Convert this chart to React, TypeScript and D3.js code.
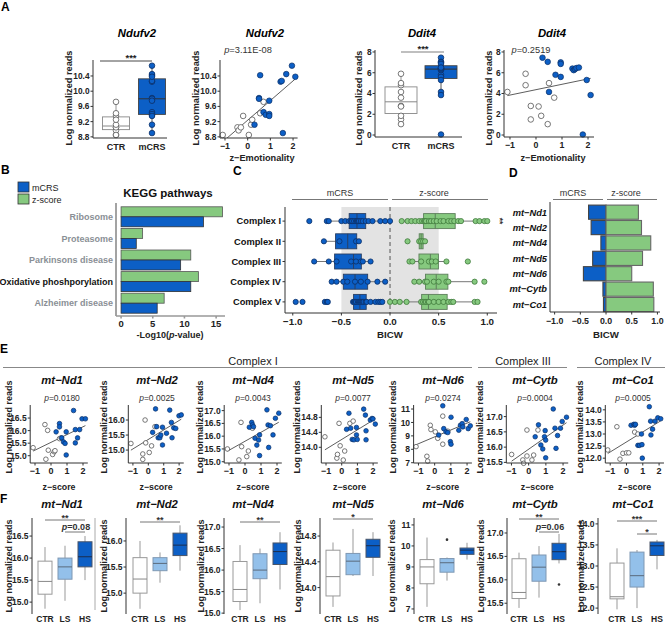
import React from 'react';
import * as d3 from 'd3';

type Pt = [number, number];

// ================= DATA =================
// Panel A
const groupsA = ['CTR', 'mCRS'];
const ndufv2Ctr: Pt[] = [[-1.1, 8.85], [-0.45, 9.05], [-0.4, 8.97], [-0.3, 9.05], [-0.2, 9.35], [0.05, 8.85], [0.15, 9.12], [0.2, 9.25], [0.55, 9.42], [0.7, 9.72]];
const ndufv2Mcrs: Pt[] = [[0.3, 9.12], [0.5, 9.82], [0.5, 9.8], [0.55, 10.42], [0.7, 9.45], [0.8, 9.38], [0.95, 9.75], [0.95, 9.4], [0.95, 9.35], [1.45, 10.25], [1.5, 10.27], [1.55, 8.9], [1.7, 10.45], [1.95, 10.67], [2.1, 10.38]];
const ddit4Ctr: Pt[] = [[-1.1, 4.15], [-0.4, 5.9], [-0.4, 4.8], [-0.2, 2.8], [-0.2, 1.5], [0.1, 2.75], [0.2, 1.85], [0.45, 1.05], [0.5, 5.0], [0.7, 3.6]];
const ddit4Mcrs: Pt[] = [[0.25, 7.45], [0.45, 7.05], [0.5, 4.15], [0.75, 5.8], [0.95, 7.0], [0.95, 6.85], [0.95, 5.6], [1.4, 6.4], [1.45, 6.25], [1.5, 6.35], [1.55, 6.45], [1.65, 6.5], [1.8, 0.05], [1.95, 5.3], [2.1, 3.85]];
const ndufv2Ticks = [8.8, 9.2, 9.6, 10.0, 10.4];
const ddit4Ticks = [0, 2, 4, 6, 8];
const zTicks = [-1, 0, 1, 2];
const pNdufv2 = '3.11E-08';
const pDdit4 = '0.2519';

// Panel B
const keggCats = ['Ribosome', 'Proteasome', 'Parkinsons disease', 'Oxidative phoshporylation', 'Alzheimer disease'];
const keggMcrs = [13.0, 2.4, 9.4, 11.0, 5.7];
const keggZ = [16.0, 3.4, 11.0, 12.2, 6.8];
const keggTicks = [0, 5, 10, 15];

// Panel C
const complexes = ['Complex I', 'Complex II', 'Complex III', 'Complex IV', 'Complex V'];
const bicwMcrs: number[][] = [
  [-0.83, -0.65, -0.63, -0.5, -0.46, -0.42, -0.4, -0.39, -0.37, -0.35, -0.34, -0.33, -0.32, -0.3, -0.28, -0.25, -0.22, -0.18, -0.1, -0.05, 0.0],
  [-0.68, -0.52, -0.35, -0.32],
  [-0.78, -0.63, -0.55, -0.4, -0.35, -0.3, -0.28, -0.2],
  [-0.6, -0.55, -0.48, -0.44, -0.36, -0.3, -0.23, -0.13, -0.05],
  [-0.97, -0.9, -0.67, -0.65, -0.64, -0.38, -0.37, -0.36, -0.35, -0.33, -0.32, -0.31, -0.3, -0.29, -0.28, -0.27, -0.25, -0.24, -0.2, -0.15, -0.12, -0.1, -0.08],
];
const bicwZ: number[][] = [
  [0.12, 0.18, 0.22, 0.26, 0.3, 0.33, 0.35, 0.36, 0.37, 0.4, 0.42, 0.45, 0.48, 0.52, 0.55, 0.6, 0.63, 0.66, 0.7, 0.73, 0.88, 0.92, 0.97, 1.0],
  [0.18, 0.3, 0.32, 0.34, 0.36],
  [0.2, 0.23, 0.32, 0.4, 0.43, 0.47, 0.58, 0.8],
  [0.25, 0.3, 0.36, 0.38, 0.45, 0.5, 0.58, 0.6, 0.87, 0.97],
  [0.0, 0.05, 0.1, 0.17, 0.32, 0.34, 0.36, 0.37, 0.39, 0.4, 0.45, 0.5, 0.55, 0.6, 0.63, 0.65, 0.87, 0.9],
];
const bicwTicks = [-1, -0.5, 0, 0.5, 1];

// Panel D
const dGenes = ['mt\u2212Nd1', 'mt\u2212Nd2', 'mt\u2212Nd4', 'mt\u2212Nd5', 'mt\u2212Nd6', 'mt\u2212Cytb', 'mt\u2212Co1'];
const dMcrs = [-0.34, -0.29, -0.1, -0.26, -0.44, -0.06, -0.05];
const dZ = [0.63, 0.69, 0.87, 0.71, 0.5, 0.92, 0.93];

// Panel E
const nd1Ctr: Pt[] = [[-1.12, 15.32], [-0.38, 16.24], [-0.32, 14.86], [-0.21, 16.01], [-0.17, 15.22], [0.1, 15.05], [0.2, 15.16], [0.25, 15.2], [0.53, 15.68], [0.63, 15.71]];
const nd1Mcrs: Pt[] = [[0.32, 15.95], [0.53, 16.28], [0.53, 16.15], [0.67, 15.71], [0.78, 15.55], [0.88, 15.49], [0.95, 15.95], [0.95, 15.03], [1.41, 16.8], [1.52, 16.04], [1.52, 15.51], [1.66, 15.71], [1.79, 16.04], [1.94, 16.47], [2.15, 16.47]];
const nd2Ctr: Pt[] = [[-1.13, 15.22], [-0.36, 14.87], [-0.36, 14.69], [-0.21, 16.0], [-0.17, 15.24], [0.06, 14.92], [0.21, 15.14], [0.43, 15.78]];
const nd2Mcrs: Pt[] = [[0.28, 15.59], [0.47, 16.37], [0.54, 15.78], [0.64, 15.41], [0.75, 15.41], [0.81, 15.5], [0.92, 15.76], [0.92, 15.17], [1.18, 15.56], [1.39, 16.33], [1.5, 15.92], [1.54, 15.41], [1.65, 15.74], [1.78, 15.72], [1.99, 16.14], [2.14, 16.17]];
const nd4Ctr: Pt[] = [[-1.1, 15.5], [-0.38, 15.07], [-0.25, 16.54], [-0.21, 15.59], [0.11, 15.2], [0.21, 15.42], [0.47, 16.31]];
const nd4Mcrs: Pt[] = [[0.27, 16.35], [0.42, 16.54], [0.47, 16.44], [0.53, 16.37], [0.63, 15.92], [0.74, 15.65], [0.85, 15.85], [0.91, 16.05], [0.91, 15.24], [1.37, 17.03], [1.44, 16.44], [1.48, 15.56], [1.59, 16.41], [1.75, 16.05], [1.9, 16.7], [2.11, 16.9]];
const nd5Ctr: Pt[] = [[-1.07, 14.28], [-0.31, 13.71], [-0.27, 13.81], [-0.17, 14.64], [-0.1, 14.04], [0.1, 13.66], [0.19, 13.9], [0.52, 14.64], [0.73, 14.7]];
const nd5Mcrs: Pt[] = [[0.31, 14.48], [0.46, 14.91], [0.57, 14.51], [0.67, 14.21], [0.78, 14.2], [0.94, 14.53], [0.94, 14.33], [0.99, 14.21], [1.4, 15.02], [1.51, 14.86], [1.55, 14.44], [1.55, 14.2], [1.82, 14.73], [1.93, 14.77], [1.99, 14.76], [2.14, 14.62]];
const nd6Ctr: Pt[] = [[-1.15, 8.2], [-0.48, 7.48], [-0.43, 7.12], [-0.27, 9.79], [-0.23, 9.47], [0.04, 9.3], [0.19, 8.82], [0.5, 10.47], [0.5, 8.38], [0.81, 9.35]];
const nd6Mcrs: Pt[] = [[0.25, 9.06], [0.5, 11.24], [0.56, 9.54], [0.7, 9.3], [0.81, 9.25], [1.01, 10.39], [0.97, 8.57], [1.01, 8.38], [1.49, 9.42], [1.59, 9.79], [1.7, 9.91], [1.74, 9.67], [1.95, 10.22], [2.07, 9.54], [2.2, 9.75]];
const cytbCtr: Pt[] = [[-0.99, 15.76], [-0.34, 15.58], [-0.29, 15.47], [-0.1, 15.71], [-0.1, 16.56], [0.19, 15.58], [0.29, 15.74], [0.54, 16.56]];
const cytbMcrs: Pt[] = [[0.38, 16.34], [0.57, 16.73], [0.71, 16.07], [0.82, 15.94], [0.92, 16.34], [0.96, 16.54], [0.99, 16.23], [0.99, 15.65], [1.43, 17.25], [1.53, 16.62], [1.59, 15.96], [1.68, 16.38], [1.85, 16.62], [1.95, 16.84], [2.2, 16.98]];
const co1Ctr: Pt[] = [[-1.15, 12.34], [-0.59, 13.3], [-0.4, 11.96], [-0.22, 12.2], [0.0, 12.22], [0.14, 12.22], [0.5, 13.08], [0.7, 13.0]];
const co1Mcrs: Pt[] = [[0.28, 13.36], [0.45, 13.4], [0.5, 13.36], [0.55, 13.4], [0.7, 12.53], [0.8, 12.53], [0.92, 13.0], [0.95, 12.56], [0.97, 12.0], [1.4, 14.13], [1.48, 13.53], [1.5, 12.96], [1.6, 13.2], [1.75, 13.53], [1.92, 13.67], [2.1, 13.63]];
const eGenes = ['mt\u2212Nd1', 'mt\u2212Nd2', 'mt\u2212Nd4', 'mt\u2212Nd5', 'mt\u2212Nd6', 'mt\u2212Cytb', 'mt\u2212Co1'];
const ePvals = ['0.0180', '0.0025', '0.0043', '0.0077', '0.0274', '0.0004', '0.0005'];
const eCtr = [nd1Ctr, nd2Ctr, nd4Ctr, nd5Ctr, nd6Ctr, cytbCtr, co1Ctr];
const eMcrs = [nd1Mcrs, nd2Mcrs, nd4Mcrs, nd5Mcrs, nd6Mcrs, cytbMcrs, co1Mcrs];
const eYDom: [number, number][] = [[14.71, 17.02], [14.57, 16.5], [14.95, 17.22], [13.58, 15.13], [6.98, 11.3], [15.48, 17.38], [11.8, 14.2]];
const eYTicks = [[15, 15.5, 16, 16.5], [15, 15.5, 16], [15, 15.5, 16, 16.5, 17], [14, 14.4, 14.8], [7, 8, 9, 10, 11], [15.5, 16, 16.5, 17], [12, 12.5, 13, 13.5, 14]];
const complexHeaders = ['Complex I', 'Complex III', 'Complex IV'];

// Panel F : [lower whisker, Q1, median, Q3, upper whisker]
const fGroups = ['CTR', 'LS', 'HS'];
const fNd1 = [[14.85, 15.18, 15.47, 15.93, 16.25], [15.03, 15.52, 15.8, 16.0, 16.28], [15.5, 15.8, 16.03, 16.37, 16.5]];
const fNd2 = [[14.7, 15.0, 15.27, 15.68, 16.0], [15.2, 15.43, 15.57, 15.68, 15.78], [15.43, 15.72, 15.92, 16.15, 16.3]];
const fNd4 = [[15.07, 15.27, 15.55, 16.2, 16.58], [15.23, 15.8, 16.0, 16.38, 16.5], [15.55, 16.13, 16.43, 16.63, 16.88]];
const fNd5 = [[13.7, 13.87, 14.17, 14.58, 14.7], [14.18, 14.2, 14.41, 14.53, 14.91], [14.18, 14.47, 14.65, 14.75, 14.86]];
const fNd6 = [[7.1, 8.2, 9.0, 9.35, 10.4], [8.35, 8.75, 9.2, 9.4, 9.45], [9.35, 9.6, 9.8, 9.9, 10.15]];
const fCytb = [[15.4, 15.6, 15.73, 16.45, 16.58], [15.62, 15.97, 16.27, 16.53, 16.72], [16.35, 16.43, 16.6, 16.78, 16.98]];
const fCo1 = [[11.97, 12.22, 12.27, 13.07, 13.42], [12.0, 12.5, 12.77, 13.33, 13.38], [12.92, 13.25, 13.48, 13.57, 13.62]];
const fStats = [fNd1, fNd2, fNd4, fNd5, fNd6, fCytb, fCo1];
const fOutliers: [string, number][][] = [[], [], [], [], [['LS', 10.3]], [['HS', 15.9]], []];
const fSig: { a: string; b: string; label: string }[][] = [
  [{ a: 'CTR', b: 'HS', label: '**' }, { a: 'LS', b: 'HS', label: 'p=0.08' }],
  [{ a: 'CTR', b: 'HS', label: '**' }],
  [{ a: 'CTR', b: 'HS', label: '**' }],
  [{ a: 'CTR', b: 'HS', label: '*' }],
  [],
  [{ a: 'CTR', b: 'HS', label: '**' }, { a: 'LS', b: 'HS', label: 'p=0.06' }],
  [{ a: 'CTR', b: 'HS', label: '***' }, { a: 'LS', b: 'HS', label: '*' }],
];

// ================= LAYOUT / STYLE =================
const FONT = "'Liberation Sans', Arial, Helvetica, sans-serif";
const BLUE = '#0c5fc6';
const BLUE_EDGE = '#0b2f66';
const GREEN = '#86c97f';
const GREEN_EDGE = '#3f7a3b';
const LIGHTBLUE = '#93c0ea';
const AX = '#333';
const f1 = d3.format('.1f');
const fd = d3.format('d');

const eLayout = [
  { left: 30.2, unit: 16, titleX: 62, ylabX: 8.5 },
  { left: 128.3, unit: 15.4, titleX: 157, ylabX: 104 },
  { left: 224.2, unit: 16, titleX: 253, ylabX: 200 },
  { left: 321.3, unit: 15.7, titleX: 353, ylabX: 297 },
  { left: 413.6, unit: 16.2, titleX: 443, ylabX: 393 },
  { left: 506.3, unit: 17.2, titleX: 535, ylabX: 480 },
  { left: 605.3, unit: 16.3, titleX: 633, ylabX: 580 },
];
const fLayout = [
  { axis: 32, c0: 45, sigY: [520, 532], border: 95, ylabX: 8.5 },
  { axis: 126, c0: 140, sigY: [522], ylabX: 104 },
  { axis: 224, c0: 240, sigY: [522], ylabX: 201 },
  { axis: 320, c0: 333, sigY: [519], ylabX: 298 },
  { axis: 414, c0: 427, sigY: [], ylabX: 392 },
  { axis: 507, c0: 519, sigY: [519, 532], ylabX: 481 },
  { axis: 598, c0: 617, sigY: [521, 534], ylabX: 581 },
];
const fYDom: [number, number][] = [[14.73, 16.91], [14.6, 16.44], [14.98, 17.21], [13.59, 15.08], [6.76, 11.33], [15.27, 17.32], [11.86, 14.14]];

// ================= HELPERS =================
function boxStats(vals: number[]) {
  const s = vals.slice().sort(d3.ascending);
  const q1 = d3.quantile(s, 0.25) as number;
  const med = d3.quantile(s, 0.5) as number;
  const q3 = d3.quantile(s, 0.75) as number;
  const iqr = q3 - q1;
  const inside = s.filter((v) => v >= q1 - 1.5 * iqr && v <= q3 + 1.5 * iqr);
  return { q1, med, q3, lo: inside[0], hi: inside[inside.length - 1] };
}

function fitLine(pts: Pt[]) {
  const mx = d3.mean(pts, (p) => p[0]) as number;
  const my = d3.mean(pts, (p) => p[1]) as number;
  let sxy = 0, sxx = 0;
  pts.forEach(([x, y]) => { sxy += (x - mx) * (y - my); sxx += (x - mx) * (x - mx); });
  const b = sxy / sxx;
  const a = my - b * mx;
  return (x: number) => a + b * x;
}

function YAxis({ x, scale, ticks, fmt, fs = 8.5, stroke = AX, sw = 1 }: any) {
  const [b, t] = scale.range();
  return (
    <g>
      <line x1={x} x2={x} y1={t} y2={b} stroke={stroke} strokeWidth={sw} />
      {ticks.map((v: number) => (
        <g key={v}>
          <line x1={x - 2.5} x2={x} y1={scale(v)} y2={scale(v)} stroke={stroke} strokeWidth={sw} />
          <text x={x - 3.5} y={scale(v)} dy="0.36em" textAnchor="end" fontSize={fs} fontWeight="bold" fill="#222">{fmt(v)}</text>
        </g>
      ))}
    </g>
  );
}

function XAxis({ y, scale, ticks, fmt, from, to, fs = 8.5, dy = 10.5, stroke = AX, sw = 1 }: any) {
  return (
    <g>
      <line x1={from} x2={to} y1={y} y2={y} stroke={stroke} strokeWidth={sw} />
      {ticks.map((v: number) => (
        <g key={v}>
          <line x1={scale(v)} x2={scale(v)} y1={y} y2={y + 2.5} stroke={stroke} strokeWidth={sw} />
          <text x={scale(v)} y={y + dy} textAnchor="middle" fontSize={fs} fontWeight="bold" fill="#222">{fmt(v)}</text>
        </g>
      ))}
    </g>
  );
}

function YLabel({ x, cy, fs = 9.2 }: any) {
  return (
    <text transform={`translate(${x},${cy}) rotate(-90)`} dy="0.35em" textAnchor="middle" fontSize={fs} fontWeight="bold" fill="#222">
      Log normalized reads
    </text>
  );
}

function PText({ x, y, val, fs = 9.3, anchor = 'middle' }: any) {
  return (
    <text x={x} y={y} textAnchor={anchor} fontSize={fs} fill="#333">
      <tspan fontStyle="italic">p</tspan>={val}
    </text>
  );
}

function Scatter({ cid, left, right, top, bottom, xDom, yDom, yTicks, yFmt, ctr, mcrs, r, fs = 8.5 }: any) {
  const x = d3.scaleLinear().domain(xDom).range([left, right]);
  const y = d3.scaleLinear().domain(yDom).range([bottom, top]);
  const all: Pt[] = ctr.concat(mcrs);
  const f = fitLine(all);
  const ext = d3.extent(all, (d) => d[0]) as [number, number];
  return (
    <g>
      <defs>
        <clipPath id={cid}><rect x={left} y={top} width={right - left} height={bottom - top} /></clipPath>
      </defs>
      <line x1={x(ext[0])} y1={y(f(ext[0]))} x2={x(ext[1])} y2={y(f(ext[1]))} stroke="#333" strokeWidth={0.8} clipPath={`url(#${cid})`} />
      {ctr.map((d: Pt, i: number) => (
        <circle key={'c' + i} cx={x(d[0])} cy={y(d[1])} r={r} fill="#fff" stroke="#555" strokeWidth={0.8} />
      ))}
      {mcrs.map((d: Pt, i: number) => (
        <circle key={'m' + i} cx={x(d[0])} cy={y(d[1])} r={r} fill={BLUE} stroke={BLUE_EDGE} strokeWidth={0.7} />
      ))}
      <YAxis x={left} scale={y} ticks={yTicks} fmt={yFmt} fs={fs} />
      <XAxis y={bottom} scale={x} ticks={zTicks} fmt={fd} from={left} to={right} fs={fs + 0.5} dy={11} />
    </g>
  );
}

function BoxA({ left, right, top, bottom, yDom, yTicks, yFmt, c0, c1, boxW, ctr, mcrs, r }: any) {
  const x = d3.scalePoint().domain(groupsA).range([c0, c1]);
  const y = d3.scaleLinear().domain(yDom).range([bottom, top]);
  const sets = [ctr, mcrs];
  return (
    <g>
      {groupsA.map((g, gi) => {
        const s = boxStats(sets[gi]);
        const cx = x(g) as number;
        const isM = gi === 1;
        const edge = isM ? '#444' : '#888';
        return (
          <g key={g}>
            <line x1={cx} x2={cx} y1={y(s.lo)} y2={y(s.hi)} stroke={edge} strokeWidth={0.9} />
            <rect x={cx - boxW / 2} width={boxW} y={y(s.q3)} height={y(s.q1) - y(s.q3)} fill={isM ? BLUE : '#fff'} stroke={edge} strokeWidth={0.9} />
            <line x1={cx - boxW / 2} x2={cx + boxW / 2} y1={y(s.med)} y2={y(s.med)} stroke={isM ? '#333' : '#888'} strokeWidth={1} />
            {sets[gi].map((v: number, i: number) => (
              <circle key={i} cx={cx} cy={y(v)} r={r} fill={isM ? BLUE : '#fff'} stroke={isM ? BLUE_EDGE : '#555'} strokeWidth={0.8} />
            ))}
            <text x={cx} y={bottom + 12} textAnchor="middle" fontSize={9} fontWeight="bold" fill="#222">{g}</text>
          </g>
        );
      })}
      <YAxis x={left} scale={y} ticks={yTicks} fmt={yFmt} fs={8.3} />
      <line x1={left} x2={right} y1={bottom} y2={bottom} stroke={AX} />
    </g>
  );
}

function BoxF({ idx }: { idx: number }) {
  const L = fLayout[idx];
  const top = 518, bottom = 614, bw = 14;
  const x = d3.scalePoint().domain(fGroups).range([L.c0, L.c0 + 40]);
  const y = d3.scaleLinear().domain(fYDom[idx]).range([bottom, top]);
  const fills = ['#fff', LIGHTBLUE, BLUE];
  const edges = ['#999', '#7f98b3', '#4a5568'];
  const meds = ['#888', '#5a6a7c', '#1b2d4d'];
  return (
    <g>
      {fGroups.map((g, gi) => {
        const [lo, q1, med, q3, hi] = fStats[idx][gi];
        const cx = x(g) as number;
        return (
          <g key={g}>
            <line x1={cx} x2={cx} y1={y(lo)} y2={y(hi)} stroke="#999" strokeWidth={1} />
            <rect x={cx - bw / 2} width={bw} y={y(q3)} height={y(q1) - y(q3)} fill={fills[gi]} stroke={edges[gi]} strokeWidth={1} />
            <line x1={cx - bw / 2} x2={cx + bw / 2} y1={y(med)} y2={y(med)} stroke={meds[gi]} strokeWidth={1} />
            <text x={cx} y={621.5} textAnchor="middle" fontSize={8.5} fontWeight="bold" fill="#222">{g}</text>
          </g>
        );
      })}
      {fOutliers[idx].map(([g, v], i) => (
        <circle key={'o' + i} cx={x(g) as number} cy={y(v)} r={1.3} fill="#333" />
      ))}
      {fSig[idx].map((s, i) => {
        const ly = L.sigY[i];
        const xa = x(s.a) as number, xb = x(s.b) as number;
        const isP = s.label.startsWith('p=');
        return (
          <g key={'s' + i}>
            <line x1={xa} x2={xb} y1={ly} y2={ly} stroke="#777" strokeWidth={1} />
            {isP ? (
              <text x={(xa + xb) / 2 + 1} y={ly - 1.8} textAnchor="middle" fontSize={9} fontWeight="bold" fill="#333">
                <tspan fontStyle="italic">p</tspan>{s.label.slice(1)}
              </text>
            ) : (
              <text x={(xa + xb) / 2} y={ly + 1} textAnchor="middle" fontSize={9} fontWeight="bold" fill="#333">{s.label}</text>
            )}
          </g>
        );
      })}
      <YAxis x={L.axis} scale={y} ticks={eYTicks[idx]} fmt={idx === 4 ? fd : f1} fs={8.5} />
      {L.border ? <line x1={L.border} x2={L.border} y1={top} y2={bottom - 4} stroke="#aaa" strokeWidth={1} /> : null}
      <text x={eLayout[idx].titleX} y={507.5} textAnchor="middle" fontSize={11.3} fontWeight="bold" fontStyle="italic" fill="#111">{eGenes[idx]}</text>
      <YLabel x={L.ylabX} cy={566} fs={9} />
    </g>
  );
}

// ================= APP =================
export default function App() {
  const bx = d3.scaleLinear().domain([-0.8, 16.4]).range([116, 225]);
  const by = d3.scaleBand().domain(keggCats).range([206, 314]);
  const cx = d3.scaleLinear().domain([-1.08, 1.1]).range([285, 497]);
  const cy = d3.scaleBand().domain(complexes).range([211, 312]);
  const dx = d3.scaleLinear().domain([-1.09, 1.05]).range([550, 660]);
  const dy = d3.scaleBand().domain(dGenes).range([205.1, 311.6]).paddingInner(0.08);

  const letter = (t: string, x: number, y: number) => (
    <text x={x} y={y} fontSize={12} fontWeight="bold" fill="#000">{t}</text>
  );

  const cBox = (vals: number[], yc: number, fill: string, edge: string, ptEdge: string, key: string) => {
    const s = boxStats(vals);
    const h = 15;
    return (
      <g key={key}>
        <line x1={cx(s.lo)} x2={cx(s.hi)} y1={yc} y2={yc} stroke="#777" strokeWidth={1} />
        <rect x={cx(s.q1)} width={cx(s.q3) - cx(s.q1)} y={yc - h / 2} height={h} fill={fill} stroke={edge} strokeWidth={0.9} />
        <line x1={cx(s.med)} x2={cx(s.med)} y1={yc - h / 2} y2={yc + h / 2} stroke={edge} strokeWidth={1} />
        {vals.map((v, i) => (
          <circle key={i} cx={cx(v)} cy={yc} r={2.6} fill={fill} stroke={ptEdge} strokeWidth={0.8} />
        ))}
      </g>
    );
  };

  return (
    <svg width={668} height={627} viewBox="0 0 668 627" style={{ position: 'absolute', left: 0, top: 0 }} fontFamily={FONT}>
      <rect width={668} height={627} fill="#fff" />

      {/* ---------------- Panel A ---------------- */}
      {letter('A', 1, 11)}
      <text x={137} y={37} textAnchor="middle" fontSize={11.3} fontWeight="bold" fontStyle="italic">Ndufv2</text>
      <BoxA left={93} right={167} top={60} bottom={138} yDom={[8.77, 10.82]} yTicks={ndufv2Ticks} yFmt={f1}
        c0={116} c1={152} boxW={27} ctr={ndufv2Ctr.map((d) => d[1])} mcrs={ndufv2Mcrs.map((d) => d[1])} r={2.8} />
      <line x1={100} x2={152} y1={61} y2={61} stroke="#333" strokeWidth={0.9} />
      <text x={131} y={61} textAnchor="middle" fontSize={9.5} fontWeight="bold" fill="#222">***</text>
      <YLabel x={69} cy={98} />

      <text x={265} y={37} textAnchor="middle" fontSize={11.3} fontWeight="bold" fontStyle="italic">Ndufv2</text>
      <PText x={248} y={52.5} val={pNdufv2} />
      <Scatter cid="a2" left={220} right={297.6} top={60} bottom={138} xDom={[-1.22, 2.2]} yDom={[8.77, 10.82]}
        yTicks={ndufv2Ticks} yFmt={f1} ctr={ndufv2Ctr} mcrs={ndufv2Mcrs} r={2.8} fs={8.3} />
      <text x={262} y={161} textAnchor="middle" fontSize={9.2} fontWeight="bold" fill="#222">z{'\u2212'}Emotionality</text>
      <YLabel x={196} cy={98} />

      <text x={422} y={37} textAnchor="middle" fontSize={11.3} fontWeight="bold" fontStyle="italic">Ddit4</text>
      <BoxA left={375} right={462} top={50} bottom={137} yDom={[-0.19, 8.19]} yTicks={ddit4Ticks} yFmt={fd}
        c0={401} c1={441} boxW={32} ctr={ddit4Ctr.map((d) => d[1])} mcrs={ddit4Mcrs.map((d) => d[1])} r={2.8} />
      <line x1={401} x2={444} y1={52} y2={52} stroke="#aaa" strokeWidth={1.4} />
      <text x={423} y={52} textAnchor="middle" fontSize={9.5} fontWeight="bold" fill="#222">***</text>
      <YLabel x={359} cy={98} />

      <text x={552} y={37} textAnchor="middle" fontSize={11.3} fontWeight="bold" fontStyle="italic">Ddit4</text>
      <PText x={531} y={52.5} val={pDdit4} />
      <Scatter cid="a4" left={504} right={594} top={50} bottom={137} xDom={[-1.23, 2.23]} yDom={[-0.19, 8.19]}
        yTicks={ddit4Ticks} yFmt={fd} ctr={ddit4Ctr} mcrs={ddit4Mcrs} r={2.8} fs={8.3} />
      <text x={553} y={161} textAnchor="middle" fontSize={9.2} fontWeight="bold" fill="#222">z{'\u2212'}Emotionality</text>
      <YLabel x={489} cy={98} />

      {/* ---------------- Panel B ---------------- */}
      {letter('B', 1, 174)}
      <rect x={18} y={182} width={11} height={10} fill={BLUE} stroke="#333" strokeWidth={0.8} />
      <rect x={18} y={194} width={11} height={10} fill={GREEN} stroke="#333" strokeWidth={0.8} />
      <text x={32} y={190.5} fontSize={9} fill="#222">mCRS</text>
      <text x={32} y={202.5} fontSize={9} fill="#222">z-score</text>
      <text x={168} y={197} textAnchor="middle" fontSize={11.5} fontWeight="bold" fill="#111">KEGG pathways</text>
      {keggCats.map((c, i) => {
        const y0 = by(c) as number;
        const h = by.bandwidth() / 2 - 0.8;
        const mid = y0 + by.bandwidth() / 2;
        return (
          <g key={c}>
            <rect x={bx(0)} y={mid - h} width={bx(keggZ[i]) - bx(0)} height={h} fill={GREEN} stroke="#555" strokeWidth={0.8} />
            <rect x={bx(0)} y={mid} width={bx(keggMcrs[i]) - bx(0)} height={h} fill={BLUE} stroke="#333" strokeWidth={0.8} />
            <text x={113} y={mid} dy="0.36em" textAnchor="end" fontSize={9} fontWeight="bold"
              fill={c.startsWith('Oxidative') ? '#111' : '#8a8f96'}>{c}</text>
          </g>
        );
      })}
      <line x1={116} x2={116} y1={203} y2={316} stroke="#999" strokeWidth={1.8} />
      <XAxis y={316} scale={bx} ticks={keggTicks} fmt={fd} from={116} to={225} fs={9.5} dy={11} stroke="#999" sw={1.6} />
      <text x={170} y={338} textAnchor="middle" fontSize={9} fontWeight="bold" fill="#222">
        -Log10(<tspan fontStyle="italic">p</tspan>-value)
      </text>

      {/* ---------------- Panel C ---------------- */}
      {letter('C', 233, 175)}
      <text x={340} y={196} textAnchor="middle" fontSize={9} fill="#333">mCRS</text>
      <line x1={292} x2={388} y1={199.5} y2={199.5} stroke="#777" strokeWidth={1} />
      <text x={434} y={196} textAnchor="middle" fontSize={9} fill="#333">z-score</text>
      <line x1={392} x2={488} y1={199.5} y2={199.5} stroke="#777" strokeWidth={1} />
      <rect x={cx(-0.5)} y={207} width={cx(0.5) - cx(-0.5)} height={313 - 207} fill="#e3e3e3" />
      <line x1={cx(0)} x2={cx(0)} y1={207} y2={313} stroke="#555" strokeWidth={1} strokeDasharray="4,3" />
      {complexes.map((c, i) => {
        const yc = (cy(c) as number) + cy.bandwidth() / 2;
        return (
          <g key={c}>
            {cBox(bicwMcrs[i], yc, BLUE, '#2a3f63', BLUE_EDGE, 'm' + i)}
            {cBox(bicwZ[i], yc, GREEN, '#5d7f5b', GREEN_EDGE, 'z' + i)}
            <line x1={282.5} x2={285} y1={yc} y2={yc} stroke={AX} />
            <text x={281} y={yc} dy="0.36em" textAnchor="end" fontSize={9.3} fontWeight="bold" fill="#111">{c}</text>
          </g>
        );
      })}
      <text transform={`translate(498,${(cy('Complex I') as number) + cy.bandwidth() / 2}) rotate(90)`} textAnchor="middle" dy="0.1em" fontSize={8.5} fontWeight="bold" fill="#333">**</text>
      <line x1={285} x2={285} y1={207} y2={313} stroke={AX} />
      <XAxis y={313} scale={cx} ticks={bicwTicks} fmt={f1} from={285} to={497} fs={9.8} dy={12} />
      <text x={390} y={338} textAnchor="middle" fontSize={9.7} fontWeight="bold" fill="#222">BICW</text>

      {/* ---------------- Panel D ---------------- */}
      {letter('D', 509, 177)}
      <text x={573} y={196} textAnchor="middle" fontSize={9} fill="#333">mCRS</text>
      <line x1={553} x2={603} y1={199.5} y2={199.5} stroke="#777" strokeWidth={1} />
      <text x={626} y={196} textAnchor="middle" fontSize={9} fill="#333">z-score</text>
      <line x1={607} x2={657} y1={199.5} y2={199.5} stroke="#777" strokeWidth={1} />
      {dGenes.map((g, i) => {
        const y0 = dy(g) as number;
        const h = dy.bandwidth();
        return (
          <g key={g}>
            <rect x={dx(dMcrs[i])} y={y0} width={dx(0) - dx(dMcrs[i])} height={h} fill={BLUE} stroke="#444" strokeWidth={1.1} />
            <rect x={dx(0)} y={y0} width={dx(dZ[i]) - dx(0)} height={h} fill={GREEN} stroke="#666" strokeWidth={1.1} />
            <text x={547} y={y0 + h / 2} dy="0.36em" textAnchor="end" fontSize={9.3} fontWeight="bold" fontStyle="italic" fill="#111">{g}</text>
          </g>
        );
      })}
      <line x1={550} x2={550} y1={202} y2={312} stroke={AX} />
      <XAxis y={312} scale={dx} ticks={bicwTicks} fmt={f1} from={550} to={660} fs={8.8} dy={11.5} />
      <text x={606} y={338} textAnchor="middle" fontSize={9.7} fontWeight="bold" fill="#222">BICW</text>

      {/* ---------------- Panel E ---------------- */}
      {letter('E', 0, 353)}
      {[{ x1: 3, x2: 472, tx: 253 }, { x1: 478, x2: 567, tx: 523 }, { x1: 577, x2: 665, tx: 623 }].map((h, i) => (
        <g key={'h' + i}>
          <text x={h.tx} y={364.5} textAnchor="middle" fontSize={11} fill="#222">{complexHeaders[i]}</text>
          <line x1={h.x1} x2={h.x2} y1={367.5} y2={367.5} stroke="#888" strokeWidth={1} />
        </g>
      ))}
      {eGenes.map((g, i) => {
        const L = eLayout[i];
        const right = L.left + 3.6 * L.unit;
        return (
          <g key={g}>
            <text x={L.titleX} y={384} textAnchor="middle" fontSize={11.3} fontWeight="bold" fontStyle="italic" fill="#111">{g}</text>
            <PText x={L.titleX} y={401} val={ePvals[i]} fs={8.5} />
            <Scatter cid={'e' + i} left={L.left} right={right} top={405} bottom={463} xDom={[-1.3, 2.3]} yDom={eYDom[i]}
              yTicks={eYTicks[i]} yFmt={i === 4 ? fd : f1} ctr={eCtr[i]} mcrs={eMcrs[i]} r={2.3} fs={8.5} />
            <text x={(L.left + right) / 2} y={489.5} textAnchor="middle" fontSize={8.8} fontWeight="bold" fill="#222">z{'\u2212'}score</text>
            <YLabel x={L.ylabX} cy={427} fs={9} />
          </g>
        );
      })}

      {/* ---------------- Panel F ---------------- */}
      {letter('F', 0, 503)}
      {fLayout.map((_, i) => <BoxF key={'f' + i} idx={i} />)}
    </svg>
  );
}
